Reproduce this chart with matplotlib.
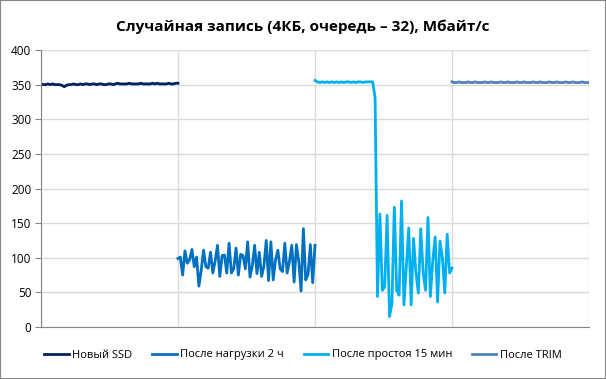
import matplotlib
import matplotlib.pyplot as plt
import numpy as np
from matplotlib.patches import Rectangle

matplotlib.use('Agg')

plt.rcParams['font.family'] = ['Open Sans', 'DejaVu Sans']

title = 'Случайная запись (4КБ, очередь – 32), Мбайт/с'
names = ['Новый SSD', 'После нагрузки 2 ч', 'После простоя 15 мин', 'После TRIM']
colors = ['#002060', '#0070C0', '#00B0F0', '#4F81BD']

new_ssd = [351, 350, 350, 351, 350, 351, 350, 350, 350, 349, 347, 349, 350, 350, 351,
           350, 350, 351, 350, 351, 351, 350, 351, 351, 350, 351, 351, 350, 350, 351,
           351, 350, 351, 352, 351, 351, 351, 351, 352, 351, 351, 351, 351, 352, 351,
           351, 351, 351, 352, 351, 352, 351, 351, 351, 351, 352, 351, 351, 352, 352]

after_load = [99, 101, 75, 110, 92, 97, 112, 87, 101, 59, 82, 111, 87, 85, 108,
              78, 95, 118, 73, 103, 104, 78, 121, 78, 84, 114, 75, 105, 103, 84,
              123, 72, 88, 118, 77, 108, 73, 88, 125, 67, 123, 68, 97, 111, 84,
              80, 121, 78, 95, 118, 65, 119, 95, 52, 142, 68, 76, 119, 64, 118]

after_idle = [356, 354, 353, 354, 353, 354, 353, 354, 353, 354, 353, 354, 353, 354, 354,
              353, 354, 353, 354, 354, 353, 354, 354, 354, 354,
              331, 44, 163, 53, 58, 161, 15, 34, 173, 53, 46, 182, 32, 87, 143,
              32, 128, 78, 49, 142, 78, 53, 158, 44, 96, 130, 36, 124, 101, 49,
              134, 78, 85]

after_trim = [354, 353, 353, 354, 353, 353, 353, 354, 353, 353, 354, 353, 353, 353, 354,
              353, 353, 354, 353, 353, 353, 354, 353, 353, 354, 353, 353, 353, 354, 353,
              353, 354, 353, 353, 353, 354, 353, 353, 354, 353, 353, 353, 354, 353, 353,
              354, 353, 353, 353, 354, 353, 353, 354, 353, 353, 353, 354, 353, 353, 353]

series = [new_ssd, after_load, after_idle, after_trim]

fig = plt.figure(figsize=(6.06, 3.79), dpi=100)
ax = fig.add_axes([41 / 606, 52 / 379, 548 / 606, 277 / 379])

# each series fills its own segment of the category axis
for k, (vals, name, col) in enumerate(zip(series, names, colors)):
    x = np.linspace(k, k + 1, len(vals))
    ax.plot(x, vals, color=col, lw=2, label=name, solid_joinstyle='round')

ax.set_xlim(0, 4)
ax.set_ylim(0, 400)
ax.set_yticks(np.arange(0, 401, 50))
ax.set_xticks([0, 1, 2, 3, 4])
ax.set_xticklabels([])
ax.grid(True, color='#D9D9D9', lw=1)
ax.set_axisbelow(True)
ax.tick_params(axis='x', length=0)
ax.tick_params(axis='y', length=4, color='#868686', labelsize=8.5, pad=3)
for s in ['top', 'right']:
    ax.spines[s].set_visible(False)
for s in ['left', 'bottom']:
    ax.spines[s].set_color('#868686')

fig.text(0.5, 1 - 27 / 379, title, ha='center', va='center', fontsize=11, fontweight='bold')

fig.legend(loc='center', bbox_to_anchor=(0.5, 1 - 355 / 379), ncol=4, frameon=False,
           fontsize=8, handlelength=2.2, handletextpad=0.3, columnspacing=1.8)

fig.patches.append(Rectangle((0, 0), 1, 1, transform=fig.transFigure, fill=False,
                             edgecolor='#868686', lw=1.5))

plt.savefig('out.png', dpi=100)
